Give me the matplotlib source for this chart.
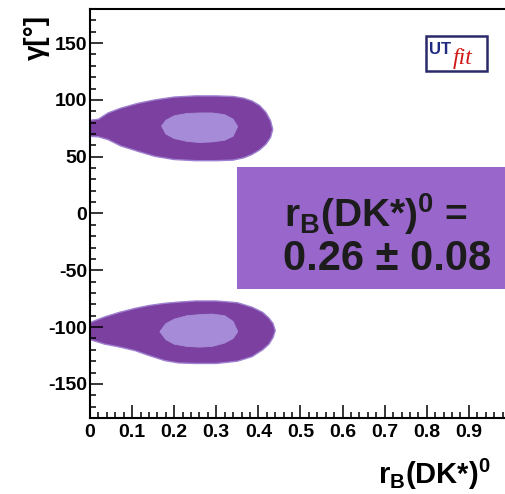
import matplotlib
matplotlib.use("Agg")
import matplotlib.pyplot as plt
import numpy as np
from matplotlib.patches import Polygon, Rectangle
from matplotlib.ticker import MultipleLocator

plt.rcParams['font.family'] = ['Liberation Sans', 'DejaVu Sans']
plt.rcParams['mathtext.fontset'] = 'custom'
plt.rcParams['mathtext.rm'] = 'Liberation Sans'
plt.rcParams['mathtext.bf'] = 'Liberation Sans:bold'
plt.rcParams['mathtext.it'] = 'Liberation Sans:italic'

# ---- data: contour boundaries (r_B, gamma in degrees) ----
# upper solution, 95% region
up_out_r = [0.0, 0.02, 0.043, 0.073, 0.114, 0.154, 0.2, 0.25, 0.3, 0.34, 0.365, 0.385, 0.403, 0.418, 0.429, 0.434]
up_out_hi = [82, 83, 88.5, 92.7, 97, 100, 102.5, 103.5, 103.5, 103, 101.5, 99, 95, 89, 81.5, 74]
up_out_lo = [68, 67.5, 65, 59.5, 54.7, 50.3, 47.5, 46.5, 46.5, 47, 49, 52, 56, 61, 67, 74]
# upper solution, 68% region
up_in_r = [0.17, 0.18, 0.2, 0.23, 0.26, 0.29, 0.32, 0.34, 0.35]
up_in_hi = [77, 82, 86, 88, 88.5, 88.5, 87, 83, 77]
up_in_lo = [77, 70, 66, 63.5, 62.5, 63, 64.5, 68, 76]
# lower solution, 95% region
lo_out_r = [0.0, 0.035, 0.07, 0.107, 0.14, 0.178, 0.21, 0.25, 0.3, 0.35, 0.385, 0.41, 0.425, 0.435, 0.44]
lo_out_hi = [-96, -91, -87, -83.5, -81, -79, -78, -77, -77, -78.5, -82.5, -87, -92, -97, -103]
lo_out_lo = [-111, -115, -117.5, -120.7, -125, -129.5, -131.5, -132, -132, -130, -126, -120, -115, -109, -103]
# lower solution, 68% region
lo_in_r = [0.166, 0.18, 0.2, 0.23, 0.26, 0.29, 0.32, 0.34, 0.351]
lo_in_hi = [-104, -97, -93, -90, -89, -88.5, -90, -95, -104]
lo_in_lo = [-104, -111, -115, -117, -117.6, -117, -114, -110, -104]

result_label = r"$\mathbf{r_B(DK{*})^0}$ ="
result_value = "0.26 ± 0.08"
x_ticks = [0, 0.1, 0.2, 0.3, 0.4, 0.5, 0.6, 0.7, 0.8, 0.9]
y_ticks = [-150, -100, -50, 0, 50, 100, 150]

dark = '#7C41A0'
light = '#A68CD8'
edge = '#9F80D0'

W, H = 506, 494
fig = plt.figure(figsize=(W / 100, H / 100), dpi=100)
ax = fig.add_axes([90 / W, 1 - 418 / H, 421 / W, 409 / H])
ax.set_xlim(0, 1)
ax.set_ylim(-180, 180)


def region(r, hi, lo, color, ec, lw):
    xs = list(r) + list(r)[::-1]
    ys = list(hi) + list(lo)[::-1]
    p = Polygon(np.column_stack([xs, ys]), closed=True, facecolor=color,
                edgecolor=ec, linewidth=lw, joinstyle='round')
    ax.add_patch(p)


region(up_out_r, up_out_hi, up_out_lo, dark, edge, 1.0)
region(lo_out_r, lo_out_hi, lo_out_lo, dark, edge, 1.0)
region(up_in_r, up_in_hi, up_in_lo, light, light, 0.6)
region(lo_in_r, lo_in_hi, lo_in_lo, light, light, 0.6)

ax.set_xticks(x_ticks)
ax.set_xticklabels([f"{v:g}" for v in x_ticks])
ax.set_yticks(y_ticks)
ax.set_yticklabels([f"{v:g}" for v in y_ticks])
ax.xaxis.set_minor_locator(MultipleLocator(0.02))
ax.yaxis.set_minor_locator(MultipleLocator(10))
ax.tick_params(which='both', direction='in', top=False, right=False, width=1.1)
ax.tick_params(which='major', length=9.5)
ax.tick_params(which='minor', length=4.5)
ax.tick_params(axis='y', which='major', pad=2)
ax.tick_params(axis='x', which='major', pad=4)
for lab in ax.get_xticklabels() + ax.get_yticklabels():
    lab.set_fontweight('bold')
    lab.set_fontsize(14)
for s in ax.spines.values():
    s.set_linewidth(1.5)

# axis labels
fig.text(378 / W, 1 - 484 / H, r"$\mathbf{r_B(DK{*})^0}$", fontsize=21,
         ha='left', va='baseline', color='black')
fig.text(37 / W, 1 - 37 / H, "γ[°]", fontsize=20, fontweight='bold',
         rotation=90, ha='center', va='center')

# result box
fig.patches.append(Rectangle((237 / W, 1 - 289 / H), (W - 237) / W, 122 / H,
                             transform=fig.transFigure, facecolor='#9966CC',
                             edgecolor='none', zorder=5))
fig.text(284 / W, 1 - 227 / H, result_label, fontsize=28, fontweight='bold',
         color='#1c1c1c', ha='left', va='baseline', zorder=6)
fig.text(283 / W, 1 - 270 / H, result_value, fontsize=30, fontweight='bold',
         color='#1c1c1c', ha='left', va='baseline', zorder=6)

# UTfit logo
fig.patches.append(Rectangle((426 / W, 1 - 71 / H), 61 / W, 35 / H,
                             transform=fig.transFigure, facecolor='white',
                             edgecolor='#2a2a6a', linewidth=1.8, zorder=5))
fig.text(429 / W, 1 - 54 / H, "UT", fontsize=12, fontweight='bold',
         color='#1f2a80', ha='left', va='baseline', zorder=6)
fig.text(453 / W, 1 - 64 / H, "fit", fontsize=17, style='italic',
         family='Liberation Serif', color='#d01818', ha='left', va='baseline', zorder=6)

fig.savefig('out.png', dpi=100)
